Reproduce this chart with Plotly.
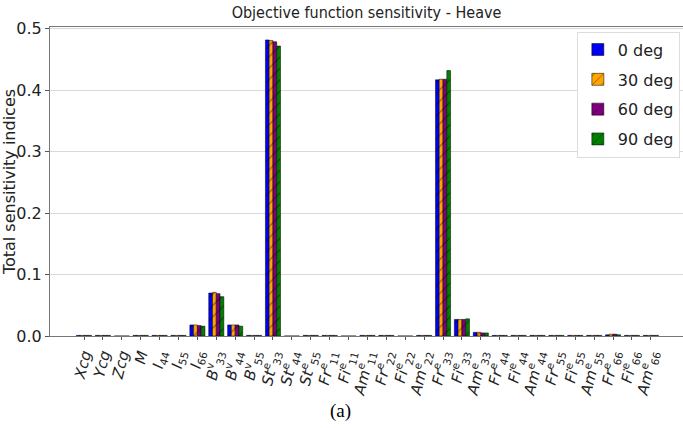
import plotly.graph_objects as go

# Parameter names (mathtext-style, rendered with HTML sub/superscripts)
params = [
    "<i>Xcg</i>", "<i>Ycg</i>", "<i>Zcg</i>", "<i>M</i>",
    "<i>I</i><sub>44</sub>", "<i>I</i><sub>55</sub>", "<i>I</i><sub>66</sub>",
    "<i>B</i><sup>v</sup><sub>33</sub>", "<i>B</i><sup>v</sup><sub>44</sub>", "<i>B</i><sup>v</sup><sub>55</sub>",
    "<i>St</i><sup>e</sup><sub>33</sub>", "<i>St</i><sup>e</sup><sub>44</sub>", "<i>St</i><sup>e</sup><sub>55</sub>",
    "<i>Fr</i><sup>e</sup><sub>11</sub>", "<i>Fi</i><sup>e</sup><sub>11</sub>", "<i>Am</i><sup>e</sup><sub>11</sub>",
    "<i>Fr</i><sup>e</sup><sub>22</sub>", "<i>Fi</i><sup>e</sup><sub>22</sub>", "<i>Am</i><sup>e</sup><sub>22</sub>",
    "<i>Fr</i><sup>e</sup><sub>33</sub>", "<i>Fi</i><sup>e</sup><sub>33</sub>", "<i>Am</i><sup>e</sup><sub>33</sub>",
    "<i>Fr</i><sup>e</sup><sub>44</sub>", "<i>Fi</i><sup>e</sup><sub>44</sub>", "<i>Am</i><sup>e</sup><sub>44</sub>",
    "<i>Fr</i><sup>e</sup><sub>55</sub>", "<i>Fi</i><sup>e</sup><sub>55</sub>", "<i>Am</i><sup>e</sup><sub>55</sub>",
    "<i>Fr</i><sup>e</sup><sub>66</sub>", "<i>Fi</i><sup>e</sup><sub>66</sub>", "<i>Am</i><sup>e</sup><sub>66</sub>",
]

# Total sensitivity indices per heading angle
deg0 = [0.001, 0.001, 0.0, 0.001, 0.001, 0.001, 0.018, 0.070, 0.018, 0.001,
        0.482, 0.0, 0.001, 0.001, 0.0, 0.001, 0.001, 0.0, 0.001, 0.417,
        0.027, 0.006, 0.001, 0.001, 0.001, 0.001, 0.001, 0.001, 0.002, 0.001, 0.001]
deg30 = [0.001, 0.001, 0.0, 0.001, 0.001, 0.001, 0.018, 0.071, 0.018, 0.001,
         0.481, 0.0, 0.001, 0.001, 0.0, 0.001, 0.001, 0.0, 0.001, 0.418,
         0.027, 0.006, 0.001, 0.001, 0.001, 0.001, 0.001, 0.001, 0.003, 0.001, 0.001]
deg60 = [0.001, 0.001, 0.0, 0.001, 0.001, 0.001, 0.017, 0.069, 0.018, 0.001,
         0.479, 0.0, 0.001, 0.001, 0.0, 0.001, 0.001, 0.0, 0.001, 0.418,
         0.027, 0.005, 0.001, 0.001, 0.001, 0.001, 0.001, 0.001, 0.003, 0.001, 0.001]
deg90 = [0.001, 0.001, 0.0, 0.001, 0.001, 0.001, 0.016, 0.064, 0.016, 0.001,
         0.472, 0.0, 0.001, 0.001, 0.0, 0.001, 0.001, 0.0, 0.001, 0.432,
         0.028, 0.005, 0.001, 0.001, 0.001, 0.001, 0.001, 0.001, 0.002, 0.001, 0.001]

series = [("0 deg", deg0, "#0000ff"), ("30 deg", deg30, "#ffa500"),
          ("60 deg", deg60, "#800080"), ("90 deg", deg90, "#008000")]

FONT = "DejaVu Sans"

fig = go.Figure()
for name, vals, color in series:
    fig.add_trace(go.Bar(
        x=list(range(len(params))), y=vals, name=name, legendgroup=name,
        marker=dict(color=color, line=dict(color="black", width=0.5),
                    pattern=dict(shape="/", fgcolor="black", bgcolor=color,
                                 size=8, solidity=0.12)),
    ))

fig.update_layout(
    width=683, height=428,
    margin=dict(l=50, r=0, t=27, b=92),
    paper_bgcolor="white", plot_bgcolor="white",
    barmode="group", bargap=0.2, bargroupgap=0,
    font=dict(family=FONT, color="#222"),
    title=dict(text="Objective function sensitivity - Heave",
               x=(50 + 633 / 2) / 683, xanchor="center", y=0.97, yanchor="middle",
               font=dict(family="DejaVu Sans Condensed, " + FONT, size=16, color="#222")),
    showlegend=True,
    legend=dict(x=0.995, y=0.985, xanchor="right", yanchor="top",
                bgcolor="white", bordercolor="#dddddd", borderwidth=1,
                font=dict(size=16, family=FONT, color="#222"),
                traceorder="grouped", tracegroupgap=6,
                itemwidth=30),
)

fig.update_xaxes(
    tickmode="array", tickvals=list(range(len(params))), ticktext=params,
    tickangle=-76, tickfont=dict(size=15, family=FONT, color="#222"),
    range=[-1.8, 31.7], ticks="outside", ticklen=3, tickcolor="#555",
    showline=True, linecolor="#777", linewidth=1, mirror=True,
    showgrid=False, zeroline=False,
)
fig.update_yaxes(
    range=[0, 0.503], dtick=0.1, tickformat=".1f",
    tickfont=dict(size=16, family=FONT, color="#222"),
    ticks="outside", ticklen=4, tickcolor="#555",
    showline=True, linecolor="#777", linewidth=1, mirror=True,
    showgrid=True, gridcolor="#d9d9d9", gridwidth=1, zeroline=False,
    title=dict(text="Total sensitivity indices", standoff=4,
               font=dict(size=16, family=FONT, color="#222")),
)

fig.add_annotation(text="(a)", xref="paper", yref="paper",
                   x=(340 - 50) / 633, y=-(411 - 336) / 309,
                   xanchor="center", yanchor="middle", showarrow=False,
                   font=dict(family="Liberation Serif, Times New Roman, serif", size=19, color="black"))

fig.write_html("out.html")
